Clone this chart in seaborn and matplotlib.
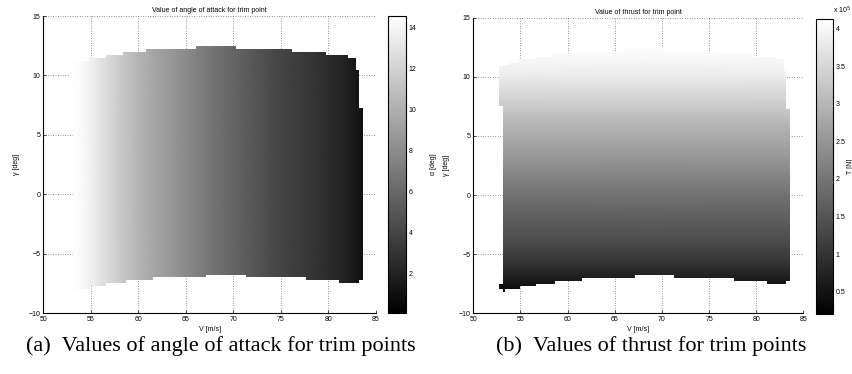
import numpy as np
import matplotlib
matplotlib.use("Agg")
import matplotlib.pyplot as plt
import seaborn as sns
from matplotlib.path import Path
from matplotlib.patches import PathPatch
from matplotlib.ticker import FuncFormatter

# Trim envelope: upper and lower flight path angle per V step
top_V = [52.76, 53.1, 53.8, 54.85, 56.6, 58.35, 60.8, 66.05, 70.26, 76.2, 79.7, 82.1, 82.9, 83.2, 83.6]
top_gamma = [10.9, 11.05, 11.2, 11.5, 11.7, 12.0, 12.2, 12.5, 12.2, 12.0, 11.7, 11.5, 10.5, 7.3]
bot_V = [52.76, 53.1, 53.4, 54.9, 56.6, 58.7, 61.5, 67.1, 71.3, 77.6, 81.1, 83.2, 83.6]
bot_gamma = [-8.0, -8.25, -8.0, -7.75, -7.5, -7.25, -7.0, -6.8, -7.0, -7.25, -7.5, -7.25]
# gap in the first V column
gap_V = [52.76, 53.1]
gap_gamma = [-7.55, 7.5]

# Angle of attack along V [deg]
V_alpha = [52.76, 54, 56, 58, 60, 62, 64, 66, 68, 70, 72, 74, 76, 78, 80, 82, 83.6]
alpha = [14.55, 14.3, 13.0, 11.6, 10.3, 9.3, 8.4, 7.5, 6.6, 5.8, 5.0, 4.3, 3.7, 3.2, 2.6, 1.9, 1.0]
alpha_range = [0.06, 14.55]
alpha_ticks = [2, 4, 6, 8, 10, 12, 14]

# Thrust along gamma [N]
gamma_T = [-8.25, -6, -4, -2, 0, 2, 4, 6, 8, 10, 12.5]
thrust = [0.3e5, 0.95e5, 1.35e5, 1.65e5, 1.95e5, 2.3e5, 2.65e5, 3.0e5, 3.4e5, 3.8e5, 4.12e5]
thrust_range = [0.2e5, 4.12e5]
thrust_ticks = [0.5e5, 1e5, 1.5e5, 2e5, 2.5e5, 3e5, 3.5e5, 4e5]

sns.set_theme(style="white")
plt.rcParams["font.family"] = ["Liberation Sans", "DejaVu Sans"]
plt.rcParams["text.color"] = "black"
plt.rcParams["axes.labelcolor"] = "black"

cmap = sns.color_palette("gray", as_cmap=True)
FS = 5


def envelope_patch(ax):
    verts = []
    for i, g in enumerate(top_gamma):
        verts.append((top_V[i], g))
        verts.append((top_V[i + 1], g))
    for i in range(len(bot_gamma) - 1, -1, -1):
        verts.append((bot_V[i + 1], bot_gamma[i]))
        verts.append((bot_V[i], bot_gamma[i]))
    verts += [(gap_V[0], gap_gamma[0]), (gap_V[1], gap_gamma[0]),
              (gap_V[1], gap_gamma[1]), (gap_V[0], gap_gamma[1])]
    verts.append(verts[0])
    patch = PathPatch(Path(verts, closed=True), facecolor="none",
                      edgecolor="none", transform=ax.transData)
    ax.add_patch(patch)
    return patch


def style_axes(ax, title):
    ax.set_xlim(50, 85)
    ax.set_ylim(-10, 15)
    ax.set_xticks(range(50, 90, 5))
    ax.set_yticks(range(-10, 20, 5))
    ax.set_axisbelow(True)
    ax.grid(True, linestyle=(0, (1, 2.5)), color="#333333", linewidth=0.5)
    for s in ["top", "right"]:
        ax.spines[s].set_visible(False)
    for s in ["left", "bottom"]:
        ax.spines[s].set_color("black")
        ax.spines[s].set_linewidth(0.8)
    ax.tick_params(direction="in", length=2.5, width=0.5, labelsize=FS, pad=2,
                   left=True, bottom=True, colors="black")
    ax.set_xlabel("V [m/s]", fontsize=FS, labelpad=2)
    ax.set_ylabel("\u03b3 [deg]", fontsize=FS, labelpad=6)
    ax.set_title(title, fontsize=FS, pad=3)


def style_cbar(cb, cax):
    cb.outline.set_linewidth(0.8)
    cb.outline.set_edgecolor("black")
    cax.tick_params(direction="in", length=2, width=0.5, labelsize=FS, pad=2,
                    left=True, right=True, colors="black")


fig = plt.figure(figsize=(8.53, 3.74), dpi=100)

# (a) angle of attack
ax1 = fig.add_axes([0.0508, 0.163, 0.390, 0.794])
style_axes(ax1, "Value of angle of attack for trim point")
X, Y = np.meshgrid(V_alpha, [-8.5, 12.7])
C = np.tile(alpha, (2, 1))
m1 = ax1.pcolormesh(X, Y, C, shading="gouraud", cmap=cmap,
                    vmin=alpha_range[0], vmax=alpha_range[1])
m1.set_clip_path(envelope_patch(ax1))
cax1 = fig.add_axes([0.455, 0.163, 0.0205, 0.794])
cb1 = fig.colorbar(m1, cax=cax1, ticks=alpha_ticks)
style_cbar(cb1, cax1)
cax1.set_ylabel("\u03b1 [deg]", fontsize=FS, labelpad=10)

# (b) thrust
ax2 = fig.add_axes([0.5549, 0.163, 0.3869, 0.789])
style_axes(ax2, "Value of thrust for trim point")
X, Y = np.meshgrid([52.7, 83.7], gamma_T)
C = np.tile(np.array(thrust)[:, None], (1, 2))
m2 = ax2.pcolormesh(X, Y, C, shading="gouraud", cmap=cmap,
                    vmin=thrust_range[0], vmax=thrust_range[1])
m2.set_clip_path(envelope_patch(ax2))
cax2 = fig.add_axes([0.9566, 0.160, 0.020, 0.788])
cb2 = fig.colorbar(m2, cax=cax2, ticks=thrust_ticks)
style_cbar(cb2, cax2)
cax2.yaxis.set_major_formatter(FuncFormatter(lambda v, p: f"{v / 1e5:g}"))
cax2.set_ylabel("T [N]", fontsize=FS, labelpad=1)
cax2.text(1.0, 1.012, "x 10$^5$", transform=cax2.transAxes, fontsize=FS,
          ha="left", va="bottom")

# captions
fig.text(0.259, 0.0757, "(a)  Values of angle of attack for trim points",
         family="Liberation Serif", fontsize=16, ha="center", va="center")
fig.text(0.763, 0.0757, "(b)  Values of thrust for trim points",
         family="Liberation Serif", fontsize=16, ha="center", va="center")

fig.savefig("out.png", dpi=100)
